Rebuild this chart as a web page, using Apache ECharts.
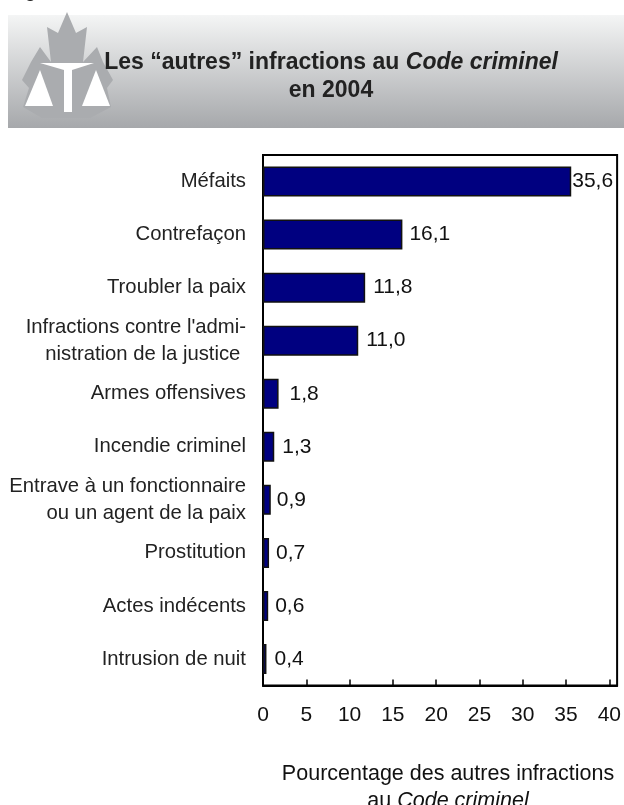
<!DOCTYPE html>
<html><head><meta charset="utf-8">
<style>html,body{margin:0;padding:0;background:#fff}#c{width:624px;height:805px}</style>
<script src="https://cdn.jsdelivr.net/npm/echarts@6/dist/echarts.min.js"></script>
</head><body><div id="c"></div>
<script>
const categories = ["Méfaits","Contrefaçon","Troubler la paix","Infractions contre l'admi-\nnistration de la justice ","Armes offensives","Incendie criminel","Entrave à un fonctionnaire\nou un agent de la paix","Prostitution","Actes indécents","Intrusion de nuit"];
const values = [35.6,16.1,11.8,11.0,1.8,1.3,0.9,0.7,0.6,0.4];
const labelDistances = [1,7,8,8,11,8,6,7,7,8];
const fmt = v => v.toFixed(1).replace('.', ',');
const chart = echarts.init(document.getElementById('c'), null, {renderer:'canvas'});
const maple = [[67,12],[76,33],[87,27],[83,62],[97,47],[103,62],[113,80],[107,88],[111,107],[90,118],[42,118],[23,107],[29,88],[22,80],[31,62],[40,47],[51,62],[47,27],[58,33]];
chart.setOption({
  animation:false,
  title:[
    {text:"{n|Les “autres” infractions au }{i|Code criminel}",left:326,top:46,textAlign:'center',
     textStyle:{rich:{n:{fontFamily:'Liberation Sans',fontWeight:'bold',fontSize:23,color:'#222'},i:{fontFamily:'Liberation Sans',fontWeight:'bold',fontStyle:'italic',fontSize:23,color:'#222'}}}},
    {text:"en 2004",left:326,top:74,textAlign:'center',textStyle:{fontFamily:'Liberation Sans',fontWeight:'bold',fontSize:23,color:'#222'}},
    {text:"{n|Pourcentage des autres infractions}",left:443,top:758,textAlign:'center',textStyle:{rich:{n:{fontFamily:'Liberation Sans',fontWeight:'normal',fontSize:21.5,color:'#111'}}}},
    {text:"{n|au }{i|Code criminel}",left:443,top:785,textAlign:'center',textStyle:{rich:{n:{fontFamily:'Liberation Sans',fontWeight:'normal',fontSize:21.5,color:'#111'},i:{fontFamily:'Liberation Sans',fontWeight:'normal',fontStyle:'italic',fontSize:21.5,color:'#111'}}}}
  ],
  graphic:[
    {type:'rect',z:-10,shape:{x:8,y:15,width:616,height:113},style:{fill:new echarts.graphic.LinearGradient(0,0,0,1,[{offset:0,color:'#f4f5f5'},{offset:1,color:'#a6a8ab'}])}},
    {type:'polygon',z:-9,shape:{points:maple},style:{fill:'#aaacaf'}},
    {type:'polygon',z:-8,shape:{points:[[40,63],[94,63],[72,70],[72,112],[64,112],[64,70]]},style:{fill:'#fff'}},
    {type:'polygon',z:-8,shape:{points:[[40,70],[53,106],[25,106]]},style:{fill:'#fff'}},
    {type:'polygon',z:-8,shape:{points:[[96,70],[110,106],[82,106]]},style:{fill:'#fff'}},
    {type:'text',x:8,y:-19,style:{text:'Figure',fontFamily:'Liberation Sans',fontSize:20,fill:'#222'}}
  ],
  grid:{left:263,right:1,top:155,bottom:119.5,show:true,borderColor:'#000',borderWidth:2,backgroundColor:'#fff'},
  xAxis:{type:'value',min:0,max:40.9,interval:5,
    splitLine:{show:false},
    axisLine:{show:true,lineStyle:{color:'#000',width:2}},
    axisTick:{show:true,inside:true,length:6,lineStyle:{color:'#000',width:1.5}},
    axisLabel:{margin:19,showMaxLabel:false,fontFamily:'Liberation Sans',fontSize:21,color:'#111'}},
  yAxis:{type:'category',inverse:true,data:categories,
    axisLine:{show:true,lineStyle:{color:'#000',width:2}},axisTick:{show:false},
    axisLabel:{margin:17,fontFamily:'Liberation Sans',fontSize:20.3,lineHeight:27,color:'#222',align:'right'}},
  series:[{type:'bar',barWidth:30,
    data:values.map((v,i)=>({value:v,label:{distance:labelDistances[i]}})),
    itemStyle:{color:'#000080',borderColor:'#111',borderWidth:1.5},
    label:{show:true,position:'right',formatter:p=>fmt(p.value),fontFamily:'Liberation Sans',fontSize:21,color:'#111'}}]
});
</script></body></html>
